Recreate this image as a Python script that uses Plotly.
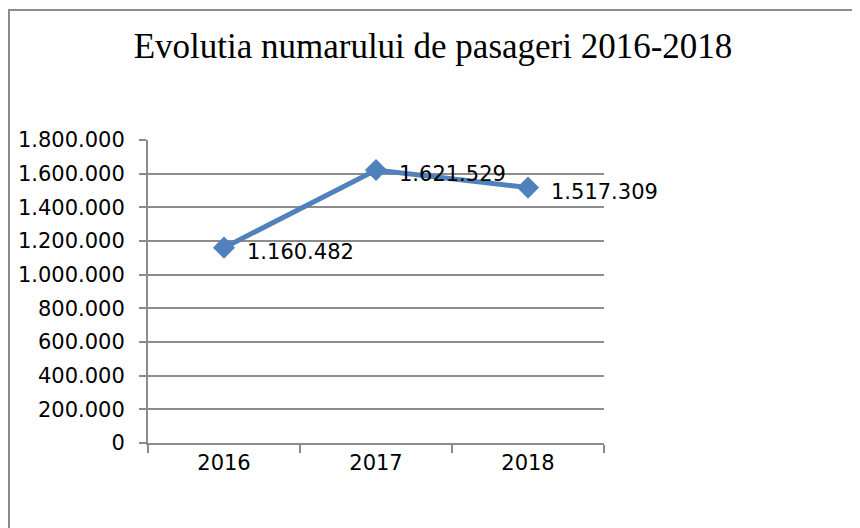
import plotly.graph_objects as go

# Data
years = ["2016", "2017", "2018"]
passengers = [1160482, 1621529, 1517309]
y_ticks = [0, 200000, 400000, 600000, 800000, 1000000, 1200000, 1400000, 1600000, 1800000]

W, H = 860, 528
# the page body adds an 8px offset, so everything is placed 8px up/left
off = 8
left, right, top, bottom = 148 - off, 604 - off, 140 - off, 443 - off

fig = go.Figure()

# main series, excel-style blue line with diamond markers
fig.add_trace(go.Scatter(
    x=years, y=passengers,
    mode="lines+markers",
    line=dict(color="#4F81BD", width=5),
    marker=dict(symbol="diamond", size=17, color="#4F81BD"),
    showlegend=False,
    cliponaxis=False,
))

# value labels to the right of each point (x given as category index)
for i, val in enumerate(passengers):
    fig.add_annotation(x=i, y=val, text=f"{val:,}".replace(",", "."),
                       showarrow=False, xanchor="left", yanchor="middle",
                       xshift=21, yshift=-4,
                       font=dict(family="DejaVu Sans", size=21, color="#000000"))

fig.update_xaxes(
    type="category",
    range=[-0.5, 2.5],
    automargin=False,
    showgrid=False,
    showline=True, linecolor="#8c8c8c", linewidth=2,
    ticks="outside", tickson="boundaries", ticklen=8, tickwidth=2, tickcolor="#8c8c8c",
    tickfont=dict(family="DejaVu Sans", size=21, color="#000000"),
)

fig.update_yaxes(
    range=[0, 1800000],
    automargin=False,
    tickvals=y_ticks,
    tickformat=",d",
    showgrid=True, gridcolor="#8c8c8c", gridwidth=1.5,
    showline=True, linecolor="#8c8c8c", linewidth=2,
    ticks="outside", ticklen=7, tickwidth=2, tickcolor="#8c8c8c",
    ticklabelstandoff=10,
    tickfont=dict(family="DejaVu Sans", size=21, color="#000000"),
    zeroline=False,
)

# outer chart border (only top and left edges are visible in the crop)
fig.add_shape(type="rect", xref="paper", yref="paper",
              x0=(1 - left) / (right - left), x1=2,
              y0=-1, y1=1 + (top - 2) / (bottom - top),
              line=dict(color="#8c8c8c", width=2), layer="below")

fig.update_layout(
    width=W, height=H,
    margin=dict(l=left, r=W - right, t=top, b=H - bottom),
    separators=",.",
    paper_bgcolor="white", plot_bgcolor="white",
    title=dict(text="Evolutia numarului de pasageri 2016-2018",
               x=(433 - off) / W, xanchor="center", xref="container",
               y=1 - (46 - off) / H, yanchor="middle", yref="container",
               font=dict(family="Liberation Serif", size=35, color="#000000")),
)

fig.write_html("out.html")
